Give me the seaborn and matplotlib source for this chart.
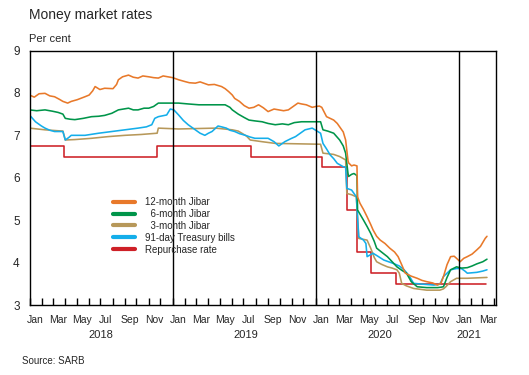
import numpy as np
import pandas as pd
import seaborn as sns
import matplotlib.pyplot as plt
from matplotlib.lines import Line2D

# ==================== DATA ====================
# x positions are months since 1 Jan 2018
t_12m = [0.0, 0.4, 0.8, 1.3, 1.7, 2.1, 2.5, 2.8, 3.2, 3.5, 4.0, 4.65, 5.0, 5.3, 5.5, 5.9,
         6.3, 7.0, 7.3, 7.45, 7.8, 8.3, 8.7, 9.1, 9.5, 10.0, 10.4, 10.8, 11.2, 11.6, 12.0,
         12.5, 13.0, 13.4, 13.9, 14.3, 15.0, 15.5, 16.1, 16.4, 16.7, 17.0, 17.2, 17.6, 18.0,
         18.4, 18.8, 19.2, 19.6, 20.0, 20.5, 20.9, 21.3, 21.7, 22.1, 22.5, 22.8, 23.2, 23.7,
         24.0, 24.3, 24.5, 24.9, 25.2, 25.5, 25.8, 26.0, 26.3, 26.5, 26.7, 26.75, 27.0, 27.2,
         27.45, 27.5, 27.7, 28.0, 28.3, 28.6, 28.8, 29.1, 29.4, 29.8, 30.2, 30.6, 30.9, 31.2,
         31.5, 32.0, 32.5, 32.9, 33.3, 33.8, 34.2, 34.5, 34.7, 35.0, 35.3, 35.6, 35.8, 36.1,
         36.4, 36.7, 37.1, 37.5, 37.8, 38.2, 38.35]
jibar_12m = [7.95, 7.90, 7.98, 7.99, 7.93, 7.91, 7.85, 7.80, 7.76, 7.80, 7.84, 7.91, 7.95, 8.05,
             8.15, 8.08, 8.11, 8.10, 8.20, 8.31, 8.38, 8.42, 8.37, 8.35, 8.40, 8.38, 8.36, 8.35,
             8.40, 8.38, 8.36, 8.31, 8.27, 8.24, 8.23, 8.26, 8.19, 8.20, 8.15, 8.10, 8.03, 7.95,
             7.87, 7.80, 7.70, 7.64, 7.66, 7.72, 7.65, 7.56, 7.62, 7.60, 7.58, 7.60, 7.68, 7.76,
             7.74, 7.72, 7.66, 7.68, 7.69, 7.66, 7.44, 7.40, 7.36, 7.28, 7.20, 7.08, 6.89, 6.40,
             6.35, 6.28, 6.30, 6.28, 5.55, 5.40, 5.25, 5.08, 4.90, 4.77, 4.62, 4.53, 4.45, 4.34,
             4.25, 4.14, 3.95, 3.75, 3.68, 3.63, 3.58, 3.55, 3.52, 3.47, 3.52, 3.67, 3.95, 4.14,
             4.15, 4.10, 4.02, 4.10, 4.14, 4.20, 4.30, 4.38, 4.57, 4.62]

t_6m = [0.0, 0.6, 1.3, 1.9, 2.4, 2.8, 3.0, 3.4, 3.8, 4.5, 5.2, 5.8, 6.3, 6.9, 7.45, 8.3, 8.7,
        9.1, 9.6, 10.0, 10.4, 10.8, 12.5, 13.3, 14.2, 15.3, 16.4, 16.8, 17.0, 17.5, 18.0, 18.4,
        18.9, 19.5, 20.0, 20.6, 21.2, 21.7, 22.2, 22.8, 24.4, 24.6, 25.0, 25.5, 26.0, 26.3,
        26.5, 26.7, 26.75, 27.0, 27.2, 27.45, 27.5, 28.0, 28.3, 28.6, 28.9, 29.1, 29.5, 30.0,
        30.4, 30.8, 31.2, 31.6, 32.0, 32.5, 33.3, 34.2, 34.5, 34.7, 35.0, 35.3, 35.8, 36.2,
        36.7, 37.1, 37.5, 38.0, 38.35]
jibar_6m = [7.60, 7.58, 7.60, 7.57, 7.54, 7.50, 7.40, 7.38, 7.37, 7.40, 7.44, 7.45, 7.47, 7.52,
            7.60, 7.64, 7.60, 7.60, 7.64, 7.64, 7.68, 7.76, 7.76, 7.74, 7.72, 7.72, 7.72, 7.66,
            7.60, 7.50, 7.42, 7.36, 7.34, 7.32, 7.28, 7.25, 7.27, 7.25, 7.30, 7.32, 7.32, 7.13,
            7.10, 7.05, 6.89, 6.75, 6.58, 6.10, 6.03, 6.08, 6.10, 6.05, 5.24, 5.00, 4.85, 4.69,
            4.50, 4.34, 4.25, 4.14, 4.02, 3.90, 3.82, 3.75, 3.55, 3.43, 3.41, 3.41, 3.42, 3.43,
            3.65, 3.83, 3.90, 3.87, 3.88, 3.92, 3.97, 4.02, 4.08]

t_3m = [0.0, 1.3, 2.8, 3.0, 3.8, 5.2, 6.6, 8.0, 9.35, 10.7, 10.8, 12.5, 15.6, 17.0, 17.5, 17.8,
        18.2, 18.5, 19.5, 20.6, 22.5, 24.4, 24.6, 25.5, 26.0, 26.5, 26.6, 27.0, 27.4, 27.6,
        28.3, 28.6, 28.9, 29.1, 29.5, 30.0, 30.4, 30.8, 31.0, 31.2, 31.6, 32.2, 33.3, 34.4,
        34.7, 34.9, 35.3, 35.8, 36.7, 38.35]
jibar_3m = [7.17, 7.13, 7.10, 6.89, 6.90, 6.93, 6.97, 7.00, 7.02, 7.05, 7.17, 7.15, 7.17, 7.13,
            7.10, 7.05, 6.98, 6.89, 6.85, 6.81, 6.80, 6.79, 6.58, 6.55, 6.50, 6.42, 5.63, 5.60,
            5.55, 4.57, 4.53, 4.34, 4.12, 4.02, 3.96, 3.90, 3.87, 3.83, 3.75, 3.51, 3.45, 3.39,
            3.35, 3.35, 3.38, 3.43, 3.55, 3.63, 3.63, 3.65]

t_tb = [0.0, 0.5, 1.0, 1.3, 1.7, 2.1, 2.8, 3.0, 3.3, 3.5, 4.65, 5.8, 6.9, 8.0, 9.1, 9.8, 10.25,
        10.5, 10.8, 11.5, 11.8, 12.1, 12.5, 12.9, 13.3, 13.9, 14.3, 14.7, 15.0, 15.3, 15.8,
        16.1, 16.5, 16.8, 17.2, 17.6, 18.1, 18.5, 18.9, 20.0, 20.5, 20.9, 21.4, 21.9, 22.3,
        22.7, 23.1, 23.7, 24.1, 24.4, 24.6, 24.9, 25.2, 25.5, 25.8, 26.3, 26.5, 26.6, 27.0,
        27.4, 27.6, 28.0, 28.2, 28.3, 28.8, 29.2, 29.7, 30.1, 30.5, 31.0, 31.4, 31.8, 32.2,
        33.0, 33.9, 34.4, 34.7, 35.0, 35.3, 35.8, 36.2, 36.5, 36.7, 37.1, 37.5, 38.0, 38.35]
tbill_91d = [7.48, 7.32, 7.22, 7.17, 7.12, 7.09, 7.09, 6.89, 6.95, 7.00, 7.00, 7.05, 7.09, 7.13,
             7.17, 7.20, 7.25, 7.40, 7.44, 7.48, 7.62, 7.60, 7.48, 7.35, 7.25, 7.13, 7.05, 7.00,
             7.05, 7.09, 7.22, 7.20, 7.17, 7.12, 7.09, 7.04, 7.00, 6.96, 6.93, 6.93, 6.85, 6.75,
             6.85, 6.92, 6.97, 7.05, 7.13, 7.17, 7.10, 7.05, 6.81, 6.68, 6.54, 6.45, 6.34, 6.26,
             6.25, 5.75, 5.71, 5.55, 4.61, 4.53, 4.45, 4.14, 4.22, 4.15, 4.06, 4.02, 3.98, 3.92,
             3.83, 3.70, 3.51, 3.49, 3.47, 3.49, 3.67, 3.75, 3.83, 3.86, 3.86, 3.80, 3.75, 3.76,
             3.77, 3.80, 3.83]

repo_dates = ["2018-01-01", "2018-03-29", "2018-11-23", "2019-07-19", "2020-01-17",
              "2020-03-20", "2020-04-15", "2020-05-22", "2020-07-24", "2021-03-12"]
repo_rate = [6.75, 6.50, 6.75, 6.50, 6.25, 5.25, 4.25, 3.75, 3.50, 3.50]

month_labels = ["Jan", "Mar", "May", "Jul", "Sep", "Nov"]
years = ["2018", "2019", "2020", "2021"]
year_label_pos = [6.0, 18.1, 29.4, 36.8]  # months since Jan 2018

C_12M, C_6M, C_3M, C_TB, C_REPO = "#E8792A", "#00954A", "#B7985A", "#14AEEA", "#CE2027"

START = pd.Timestamp("2018-01-01")


def to_dates(months):
    # months since 1 Jan 2018 -> timestamps
    return START + pd.to_timedelta(np.asarray(months) * 30.4375, unit="D")


# ==================== STYLE ====================
sns.set_theme(style="white")
plt.rcParams["font.family"] = ["Liberation Sans", "DejaVu Sans"]

fig = plt.figure(figsize=(5.29, 3.75), dpi=100)
ax = fig.add_axes([29.5 / 529, 70 / 375, 466 / 529, 254.5 / 375])

# ==================== LINES ====================
lw = 1.15
sns.lineplot(x=pd.to_datetime(repo_dates), y=repo_rate, ax=ax, color=C_REPO, lw=lw,
             drawstyle="steps-post", estimator=None, sort=False)
sns.lineplot(x=to_dates(t_3m), y=jibar_3m, ax=ax, color=C_3M, lw=lw, estimator=None, sort=False)
sns.lineplot(x=to_dates(t_tb), y=tbill_91d, ax=ax, color=C_TB, lw=lw, estimator=None, sort=False)
sns.lineplot(x=to_dates(t_6m), y=jibar_6m, ax=ax, color=C_6M, lw=lw, estimator=None, sort=False)
sns.lineplot(x=to_dates(t_12m), y=jibar_12m, ax=ax, color=C_12M, lw=lw, estimator=None, sort=False)

# year dividers
for y in years[1:]:
    ax.axvline(pd.Timestamp(f"{y}-01-01"), color="black", lw=1.0)

# ==================== AXES ====================
ax.set_xlim(START, pd.Timestamp("2021-04-04"))
ax.set_ylim(3, 9)
ax.set_yticks(range(3, 10))
ax.tick_params(axis="y", direction="in", length=5, width=1, pad=7, labelsize=8.5, color="black")

month_starts = pd.date_range("2018-01-01", "2021-04-01", freq="MS")
ax.set_xticks(month_starts, minor=True)
mid_months = [d + pd.Timedelta(days=14) for d in month_starts[:-1] if d.month % 2 == 1]
ax.set_xticks(mid_months)
ax.set_xticklabels([month_labels[(d.month - 1) // 2] for d in mid_months])
ax.tick_params(axis="x", which="major", length=0, pad=7, labelsize=7.5)
ax.tick_params(axis="x", which="minor", direction="in", length=5, width=1, color="black", bottom=True)
ax.set_xlabel("")
ax.set_ylabel("")

for s in ax.spines.values():
    s.set_color("black")
    s.set_linewidth(1.0)

for y, pos in zip(years, year_label_pos):
    ax.text(to_dates([pos])[0], -0.118, y, transform=ax.get_xaxis_transform(),
            ha="center", va="center", fontsize=8)

# ==================== LEGEND ====================
handles = [Line2D([], [], color=c, lw=3) for c in (C_12M, C_6M, C_3M, C_TB, C_REPO)]
labels = ["12-month Jibar", "  6-month Jibar", "  3-month Jibar", "91-day Treasury bills",
          "Repurchase rate"]
ax.legend(handles, labels, loc="upper left", bbox_to_anchor=(113 / 529, 1 - 197 / 375),
          bbox_transform=fig.transFigure, frameon=False, fontsize=7, handlelength=2.3,
          handletextpad=1.0, labelspacing=0.2, borderpad=0, borderaxespad=0)

# ==================== TEXT ====================
fig.text(29 / 529, 1 - 15 / 375, "Money market rates", fontsize=10, va="center", ha="left")
fig.text(29 / 529, 1 - 38.5 / 375, "Per cent", fontsize=8, va="center", ha="left")
fig.text(22.5 / 529, 1 - 361.5 / 375, "Source: SARB", fontsize=7, va="center", ha="left")

fig.savefig("out.png", dpi=100)
